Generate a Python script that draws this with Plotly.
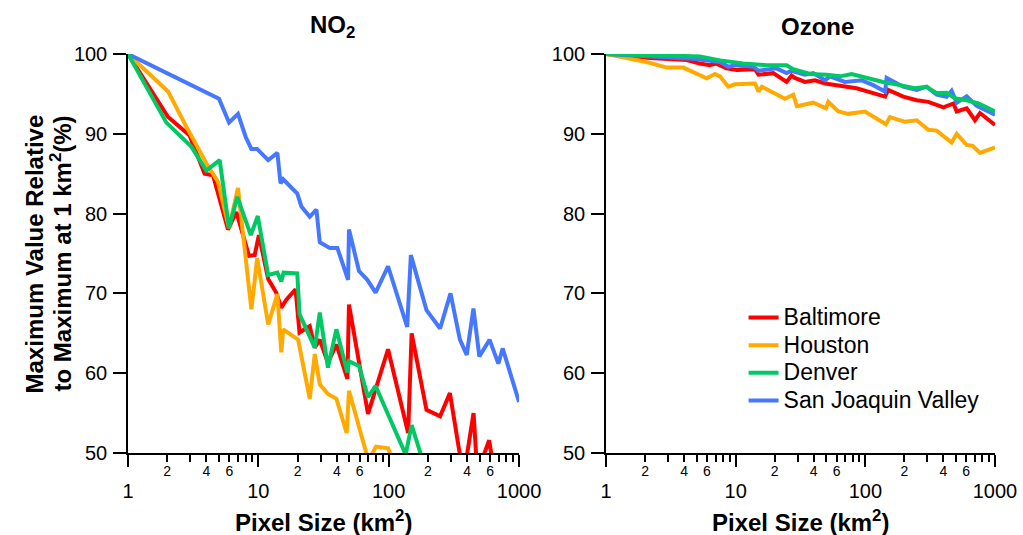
import plotly.graph_objects as go

# --- NO2 panel (pixel size km^2, % of max at 1 km^2) ---
no2_baltimore_x = [1, 2.03, 2.97, 3.87, 4.49, 5.85, 6.78, 8.48, 9.37, 10.1, 11.9, 13.7, 15.0, 16.4, 19.3,
                   20.7, 24.8, 27.1, 29.6, 34.2, 39.7, 48.2, 49.6, 69.4, 98.9, 141, 150, 195, 248, 295,
                   375, 448, 478, 590, 640]
no2_baltimore_y = [100, 92.1, 89.8, 85.0, 84.8, 78.0, 80.2, 74.7, 74.8, 77.3, 71.8, 70.1, 68.2, 69.2, 70.5,
                   65.1, 65.9, 63.2, 64.2, 61.3, 63.6, 59.3, 68.6, 54.9, 63.0, 52.5, 65.0, 55.4, 54.6, 57.5,
                   47.0, 55.0, 47.5, 51.6, 48.0]

no2_houston_x = [1, 2.03, 2.8, 3.99, 4.9, 5.96, 6.98, 8.84, 9.8, 11.9, 14.0, 15.0, 15.5, 20.2, 24.8,
                 27.1, 29.6, 34.2, 39.7, 47.6, 49.6, 70, 80, 99, 110]
no2_houston_y = [100, 95.3, 90.9, 86.3, 84.0, 78.2, 83.2, 68.0, 74.4, 66.1, 69.9, 62.6, 65.5, 64.2, 56.8,
                 62.4, 58.6, 57.4, 56.8, 52.5, 57.8, 49.0, 50.8, 50.6, 48.5]

no2_denver_x = [1, 1.97, 3.06, 3.99, 5.05, 5.96, 6.9, 8.75, 9.9, 11.9, 14.0, 15.0, 15.6, 19.9, 20.7,
                27.1, 29.6, 34.2, 39.7, 48.2, 49.6, 59.2, 69.4, 79.4, 135, 150, 200]
no2_denver_y = [100, 91.4, 88.4, 85.4, 86.7, 78.2, 82.1, 77.3, 79.7, 72.3, 72.6, 71.5, 72.6, 72.5, 67.4,
                63.2, 67.6, 60.7, 65.5, 60.1, 61.5, 60.9, 57.0, 58.4, 49.8, 53.5, 47.0]

no2_sjv_x = [1, 4.99, 5.96, 6.98, 8.0, 8.84, 9.77, 11.9, 14.0, 14.8, 15.5, 17.9, 19.9, 21.4, 24.8,
             27.9, 29.6, 35.3, 40.4, 48.8, 49.6, 59.2, 68.6, 79.4, 98.9, 138.6, 148, 195, 248, 298,
             352, 397, 447, 496, 594, 694, 749, 1000]
no2_sjv_y = [100, 94.4, 91.4, 92.5, 89.6, 88.1, 88.1, 86.7, 87.6, 83.8, 84.3, 83.2, 82.5, 80.9, 79.6,
             80.5, 76.4, 75.7, 75.7, 71.7, 78.0, 72.8, 71.7, 70.1, 73.4, 65.8, 74.8, 67.9, 65.6, 70.0,
             64.2, 62.3, 68.1, 62.1, 64.2, 61.2, 63.1, 56.4]

# --- Ozone panel ---
o3_baltimore_x = [1, 2.18, 4.19, 5.3, 6.3, 7.1, 8.5, 10.2, 14.1, 15.0, 19.5, 22.6, 24.7, 27.0, 28.6,
                  34.2, 40.9, 48.9, 67.4, 85.6, 115, 142, 150, 196, 249, 306, 400, 478, 507, 605,
                  700, 766, 1000]
o3_baltimore_y = [100, 99.5, 99.25, 98.8, 98.6, 98.8, 98.2, 98.0, 98.1, 97.4, 97.6, 97.0, 96.5, 97.3, 97.0,
                  96.5, 96.7, 96.3, 95.9, 95.7, 95.1, 94.65, 95.5, 94.65, 94.2, 94.0, 93.3, 93.8, 92.8, 93.2,
                  91.7, 92.6, 91.1]

o3_houston_x = [1, 2.06, 2.94, 3.95, 5.97, 6.93, 7.57, 8.77, 9.88, 14.1, 15.0, 15.9, 24.0, 27.8, 29.7,
                39.7, 49.7, 51.8, 61.9, 74.0, 99.4, 144, 155, 202, 249, 306, 355, 463, 507, 605,
                673, 766, 1000]
o3_houston_y = [100, 99.0, 98.3, 98.3, 96.95, 97.5, 97.2, 95.9, 96.2, 96.3, 95.3, 95.9, 94.4, 94.9, 93.45,
                93.9, 93.2, 94.0, 92.8, 92.5, 92.8, 91.2, 92.1, 91.5, 91.7, 90.5, 90.4, 88.9, 90.0, 88.6,
                88.5, 87.6, 88.3]

o3_denver_x = [1, 5.3, 7.6, 11.4, 17.3, 24.7, 27.8, 37.5, 50.4, 64.0, 78.5, 102, 137, 185, 240,
               297, 355, 423, 490, 605, 745, 1000]
o3_denver_y = [100, 99.7, 99.2, 98.8, 98.6, 98.6, 98.1, 97.5, 97.4, 97.2, 97.5, 97.0, 96.5, 96.1, 95.7,
               95.9, 95.1, 95.15, 94.45, 94.2, 93.8, 92.8]

o3_sjv_x = [1, 2.18, 4.7, 7.6, 8.8, 9.9, 13.7, 15.0, 20.6, 24.7, 27.0, 34.2, 39.7, 48.9, 53.4,
            69.5, 93.8, 115, 142, 146, 196, 249, 297, 355, 423, 463, 507, 605, 722, 1000]
o3_sjv_y = [100, 99.7, 99.4, 99.0, 98.4, 98.6, 98.4, 97.9, 98.2, 97.6, 97.9, 97.4, 97.6, 96.7, 97.2,
            96.5, 96.7, 96.1, 95.3, 97.0, 95.9, 95.5, 95.9, 94.9, 94.65, 95.4, 93.9, 94.7, 93.5, 92.4]

y_ticks = [50, 60, 70, 80, 90, 100]
major_x_ticks = [1, 10, 100, 1000]
major_x_text = ['1', '10', '100', '1000']
minor_x_ticks = [d * m for m in (1, 10, 100) for d in range(2, 10)]
labelled_minor = [2, 4, 6, 20, 40, 60, 200, 400, 600]
labelled_minor_text = ['2', '4', '6', '2', '4', '6', '2', '4', '6']

FONT = 'Liberation Sans, Arial, sans-serif'

series = [
    # name, colour, legend rank, no2 data, o3 data
    ('Baltimore', '#FF0000', 1, no2_baltimore_x, no2_baltimore_y, o3_baltimore_x, o3_baltimore_y),
    ('Houston', '#FFAA00', 2, no2_houston_x, no2_houston_y, o3_houston_x, o3_houston_y),
    ('San Joaquin Valley', '#4678FF', 4, no2_sjv_x, no2_sjv_y, o3_sjv_x, o3_sjv_y),
    ('Denver', '#00C864', 3, no2_denver_x, no2_denver_y, o3_denver_x, o3_denver_y),
]

fig = go.Figure()
for name, color, rank, nx, ny, ox, oy in series:
    fig.add_trace(go.Scatter(x=nx, y=ny, mode='lines', name=name, legendrank=rank,
                             line=dict(color=color, width=4), showlegend=False,
                             xaxis='x', yaxis='y'))
    # bigger text than the legend font so entries stay tightly spaced
    fig.add_trace(go.Scatter(x=ox, y=oy, mode='lines', legendrank=rank,
                             name=f'<span style="font-size:23px">{name}</span>',
                             line=dict(color=color, width=4), showlegend=True,
                             xaxis='x2', yaxis='y2'))

# empty traces so the overlay axes carrying the 2/4/6 labels get drawn
for xa, ya in (('x3', 'y'), ('x4', 'y2')):
    fig.add_trace(go.Scatter(x=labelled_minor, y=[None] * len(labelled_minor), mode='lines',
                             showlegend=False, hoverinfo='skip', xaxis=xa, yaxis=ya))

# plot area: x 128..995 px, y 54..453 px
left_dom = [0, 0.451]
right_dom = [0.5513, 1]

xcommon = dict(
    type='log', range=[0, 3], showline=True, linecolor='black', linewidth=1.5,
    showgrid=False, zeroline=False, ticks='outside', ticklen=12, tickwidth=1.5,
    tickcolor='black', tickvals=major_x_ticks, ticktext=major_x_text,
    tickfont=dict(family=FONT, size=20, color='black'), ticklabelstandoff=7,
    minor=dict(tickvals=minor_x_ticks, ticks='outside', ticklen=7, tickwidth=1.5,
               tickcolor='black', showgrid=False),
)
xminor = dict(
    type='log', range=[0, 3], showline=False, showgrid=False, zeroline=False,
    ticks='', tickvals=labelled_minor, ticktext=labelled_minor_text,
    tickfont=dict(family=FONT, size=14, color='black'), ticklabelstandoff=8,
)
ycommon = dict(
    range=[50, 100], showline=True, linecolor='black', linewidth=1.5, showgrid=False,
    zeroline=False, ticks='outside', ticklen=13, tickwidth=1.5, tickcolor='black',
    tickvals=y_ticks, tickfont=dict(family=FONT, size=20, color='black'), ticklabelstandoff=2,
)

fig.update_layout(
    width=1023, height=535,
    margin=dict(l=128, r=28, t=54, b=82, autoexpand=False),
    paper_bgcolor='white', plot_bgcolor='white',
    font=dict(family=FONT, color='black'),
    xaxis=dict(domain=left_dom, anchor='y', **xcommon),
    xaxis2=dict(domain=right_dom, anchor='y2', **xcommon),
    xaxis3=dict(overlaying='x', anchor='y', **xminor),
    xaxis4=dict(overlaying='x2', anchor='y2', **xminor),
    yaxis=dict(anchor='x', **ycommon),
    yaxis2=dict(anchor='x2', **ycommon),
    legend=dict(x=0.71, y=0.387, xanchor='left', yanchor='top', bgcolor='rgba(0,0,0,0)',
                font=dict(family=FONT, size=19, color='black'), tracegroupgap=0),
    showlegend=True,
)

bold = dict(family=FONT, size=24, color='black', weight='bold')
annotations = [
    dict(text='NO<sub>2</sub>', x=0.2353, y=1.07, xref='paper', yref='paper',
         showarrow=False, font=bold, xanchor='center', yanchor='middle'),
    dict(text='Ozone', x=0.7947, y=1.07, xref='paper', yref='paper',
         showarrow=False, font=bold, xanchor='center', yanchor='middle'),
    dict(text='Pixel Size (km<sup>2</sup>)', x=0.2255, y=-0.171, xref='paper', yref='paper',
         showarrow=False, font=bold, xanchor='center', yanchor='middle'),
    dict(text='Pixel Size (km<sup>2</sup>)', x=0.7757, y=-0.171, xref='paper', yref='paper',
         showarrow=False, font=bold, xanchor='center', yanchor='middle'),
    dict(text='Maximum Value Relative', x=-0.1073, y=0.5,
         xref='paper', yref='paper', showarrow=False, font=bold, textangle=-90,
         xanchor='center', yanchor='middle'),
    dict(text='to Maximum at 1 km<sup>2</sup>(%)', x=-0.0784, y=0.5,
         xref='paper', yref='paper', showarrow=False, font=bold, textangle=-90,
         xanchor='center', yanchor='middle'),
]
fig.update_layout(annotations=annotations)

# drop the page's default 8px body margin so the figure sits at the window corner
fig.write_html("out.html", config={'displayModeBar': False},
               post_script="document.body.style.margin = '0px';")
